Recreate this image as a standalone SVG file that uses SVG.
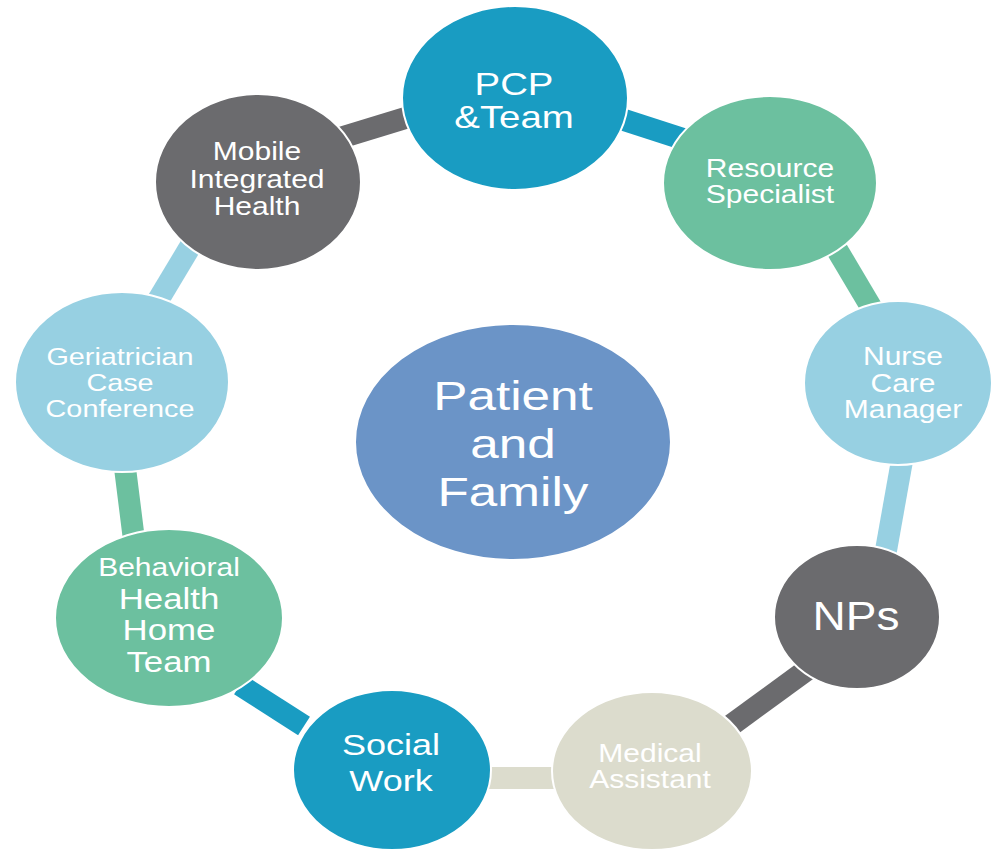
<svg xmlns="http://www.w3.org/2000/svg" width="993" height="852" viewBox="0 0 993 852">
<style>
text{font-family:"Liberation Sans",Arial,sans-serif;text-anchor:middle;fill:#ffffff}
.teal{fill:#199cc2}
.green{fill:#6cc09f}
.lblue{fill:#97d0e2}
.gray{fill:#6b6b6e}
.beige{fill:#dcdccd}
.node{stroke:#ffffff;stroke-width:2}
.c{fill:none;stroke-width:22;stroke-linecap:butt}
</style>
<rect width="993" height="852" fill="#ffffff"/>
<g id="connectors">
<line class="c" x1="340" y1="138" x2="412" y2="116" stroke="#6b6b6e"/>
<line class="c" x1="618" y1="118" x2="686" y2="140" stroke="#199cc2"/>
<line class="c" x1="836" y1="248" x2="874" y2="312" stroke="#6cc09f" stroke-width="22"/>
<line class="c" x1="903" y1="455" x2="885" y2="556" stroke="#97d0e2" stroke-width="20"/>
<line class="c" x1="808" y1="669" x2="730" y2="726" stroke="#6b6b6e"/>
<line class="c" x1="480" y1="778" x2="562" y2="778" stroke="#dcdccd" stroke-width="18"/>
<line class="c" x1="240" y1="685" x2="304" y2="726" stroke="#199cc2"/>
<line class="c" x1="124" y1="460" x2="134" y2="540" stroke="#6cc09f"/>
<line class="c" x1="193" y1="242" x2="157" y2="302" stroke="#97d0e2"/>
</g>
<g id="patient">
<ellipse class="node" cx="513" cy="442" rx="158" ry="118" fill="#6b94c7"/>
<text transform="translate(513,0) scale(1.25,1)" font-size="41"><tspan x="0" y="410">Patient</tspan><tspan x="0" y="458">and</tspan><tspan x="0" y="506">Family</tspan></text>
</g>
<g id="pcp">
<ellipse class="node teal" cx="515" cy="98" rx="113" ry="92"/>
<text transform="translate(514,0) scale(1.2,1)" font-size="32"><tspan x="0" y="95">PCP</tspan><tspan x="0" y="128">&amp;Team</tspan></text>
</g>
<g id="resource">
<ellipse class="node green" cx="770" cy="183" rx="107" ry="87"/>
<text transform="translate(770,0) scale(1.2,1)" font-size="25"><tspan x="0" y="177">Resource</tspan><tspan x="0" y="203">Specialist</tspan></text>
</g>
<g id="nurse">
<ellipse class="node lblue" cx="898" cy="383" rx="94" ry="82"/>
<text transform="translate(903,0) scale(1.2,1)" font-size="25" fill="#eef8fb"><tspan x="0" y="365">Nurse</tspan><tspan x="0" y="392">Care</tspan><tspan x="0" y="418">Manager</tspan></text>
</g>
<g id="nps">
<ellipse class="node gray" cx="857" cy="617" rx="83" ry="72"/>
<text transform="translate(856,0) scale(1.15,1)" font-size="40"><tspan x="0" y="630">NPs</tspan></text>
</g>
<g id="medical">
<ellipse class="node beige" cx="652" cy="771" rx="100" ry="79"/>
<text transform="translate(650,0) scale(1.2,1)" font-size="25" fill="#f6f6f0"><tspan x="0" y="762">Medical</tspan><tspan x="0" y="788">Assistant</tspan></text>
</g>
<g id="social">
<ellipse class="node teal" cx="392" cy="770" rx="99" ry="80"/>
<text transform="translate(391,0) scale(1.2,1)" font-size="30"><tspan x="0" y="755">Social</tspan><tspan x="0" y="791">Work</tspan></text>
</g>
<g id="behavioral">
<ellipse class="node green" cx="169" cy="618" rx="114" ry="89"/>
<text transform="translate(169,0) scale(1.2,1)"><tspan x="0" y="576" font-size="25">Behavioral</tspan><tspan x="0" y="609" font-size="29">Health</tspan><tspan x="0" y="640" font-size="29">Home</tspan><tspan x="0" y="672" font-size="29">Team</tspan></text>
</g>
<g id="geriatrician">
<ellipse class="node lblue" cx="122" cy="382" rx="107" ry="90"/>
<text transform="translate(120,0) scale(1.2,1)" font-size="24" fill="#eef8fb"><tspan x="0" y="365">Geriatrician</tspan><tspan x="0" y="391">Case</tspan><tspan x="0" y="417">Conference</tspan></text>
</g>
<g id="mobile">
<ellipse class="node gray" cx="258" cy="182" rx="103" ry="88"/>
<text transform="translate(257,0) scale(1.2,1)" font-size="25"><tspan x="0" y="160">Mobile</tspan><tspan x="0" y="188">Integrated</tspan><tspan x="0" y="215">Health</tspan></text>
</g>
</svg>
